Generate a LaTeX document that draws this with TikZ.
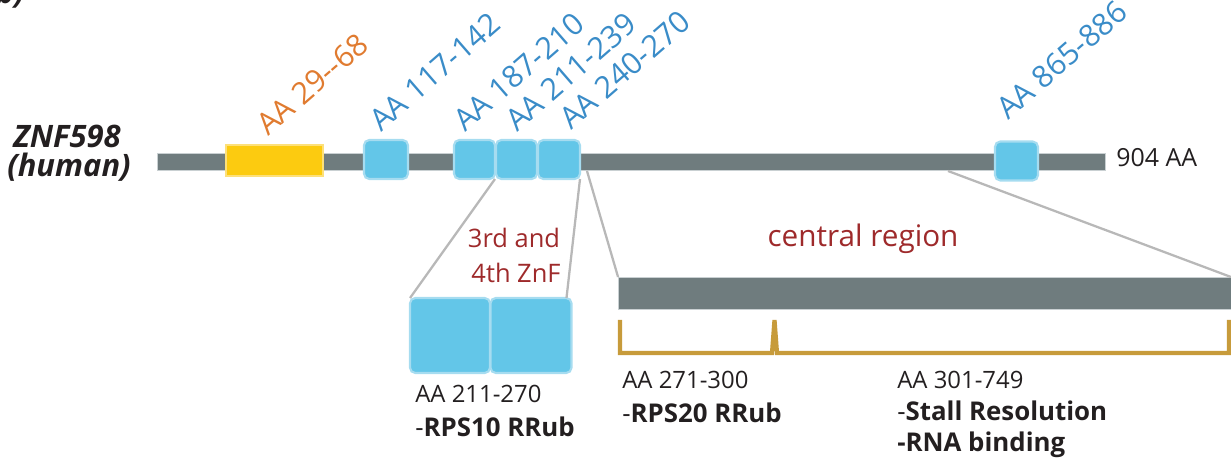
\documentclass[tikz,border=0pt]{standalone}
\usepackage{fontspec}
\setmainfont{Open Sans}
\definecolor{barGray}{HTML}{6F7C7E}
\definecolor{barEdge}{HTML}{C9D0D2}
\definecolor{zfBlue}{HTML}{63C6E8}
\definecolor{zfEdge}{HTML}{A6DCF0}
\definecolor{rYellow}{HTML}{FCCB10}
\definecolor{rYellowEdge}{HTML}{FDE07A}
\definecolor{txtOrange}{HTML}{E07B30}
\definecolor{txtBlue}{HTML}{3A8CC8}
\definecolor{txtRed}{HTML}{9E2A2B}
\definecolor{txtDark}{HTML}{231F20}
\definecolor{gold}{HTML}{C79B3B}
\definecolor{connGray}{HTML}{B8B8B8}
\newcommand{\fs}[1]{\fontsize{#1}{#1}\selectfont}
\begin{document}
\begin{tikzpicture}[x=0.02cm,y=-0.02cm,
  bar/.style={fill=barGray, draw=barEdge, line width=0.5pt, inner sep=0, outer sep=0},
  zf/.style={fill=zfBlue, draw=zfEdge, line width=1.2pt, rounded corners=3pt, inner sep=0, outer sep=0, minimum height=0.78cm},
  rgn/.style={fill=rYellow, draw=rYellowEdge, line width=1.2pt, inner sep=0, outer sep=0},
  conn/.style={draw=connGray, line width=1.3pt},
  rlab/.style={rotate=41, anchor=base west, inner sep=0, font=\fs{17.3}},
  lab/.style={anchor=base west, inner sep=0, text=txtDark},
  redlab/.style={anchor=base, inner sep=0, text=txtRed},
  bracket/.style={draw=gold, line width=2.4pt, line join=miter}
]
\useasboundingbox (0,0) rectangle (1231,462);
\clip (0,0) rectangle (1231,462);

% partial panel letter at top-left
\node[anchor=base west, inner sep=0, text=txtDark, font=\fs{17}\bfseries\itshape] (panel) at (-4,4) {b)};

% protein name
\node[anchor=base, inner sep=0, text=txtDark, font=\fs{17.6}\bfseries\itshape] (name1) at (67,148) {ZNF598};
\node[anchor=base, inner sep=0, text=txtDark, font=\fs{17.6}\bfseries\itshape] (name2) at (69,177) {(human)};

% main bar
\node[bar, minimum width=18.98cm, minimum height=0.34cm] (mb) at (631.5,161.5) {};
\node[lab, font=\fs{14.2}] (len) at (1116,167) {904 AA};

% domains on main bar
\node[rgn, minimum width=1.94cm, minimum height=0.62cm] (y1) at (274.5,160.5) {};
\node[zf, minimum width=0.88cm] (b1) at (386,159.5) {};
\node[zf, minimum width=0.82cm] (b2) at (474.5,159.5) {};
\node[zf, minimum width=0.82cm] (b3) at (516.5,159.5) {};
\node[zf, minimum width=0.84cm] (b4) at (559,159.5) {};
\node[zf, minimum width=0.86cm] (b5) at (1016.5,161) {};

% rotated labels
\node[rlab, text=txtOrange] (l1) at (268,137) {AA 29-{}-68};
\node[rlab, text=txtBlue] (l2) at (381,133) {AA 117-142};
\node[rlab, text=txtBlue] (l3) at (465,133) {AA 187-210};
\node[rlab, text=txtBlue] (l4) at (517,133) {AA 211-239};
\node[rlab, text=txtBlue] (l5) at (571,131) {AA 240-270};
\node[rlab, text=txtBlue] (l6) at (1008,121) {AA 865-886};

% connector anchor points on the main bar
\coordinate (c1) at (587,171);
\coordinate (c2) at (948,171);

% enlarged zinc fingers
\node[zf, minimum width=1.6cm, minimum height=1.5cm] (e1) at (450,335.5) {};
\node[zf, minimum width=1.62cm, minimum height=1.5cm] (e2) at (531,335.5) {};

% central region bar
\node[bar, minimum width=12.26cm, minimum height=0.64cm] (cb) at (924.5,293) {};

% connectors
\draw[conn] (b2.south east) -- (e1.north west);
\draw[conn] (b4.south east) -- ([xshift=-0.1cm]e2.north east);
\draw[conn] (c1) -- (cb.north west);
\draw[conn] (c2) -- (cb.north east);

% red labels
\node[redlab, font=\fs{14.5}] (znf1) at (514,248) {3rd and};
\node[redlab, font=\fs{14.5}] (znf2) at (516,283) {4th ZnF};
\node[redlab, font=\fs{16.9}] (central) at (863,247) {central region};

% brackets
\coordinate (k0) at (620,320);
\coordinate (k1) at (620,353);
\coordinate (k2) at (772,353);
\coordinate (k3) at (774.5,320);
\coordinate (k4) at (777,353);
\coordinate (k5) at (1229,353);
\coordinate (k6) at (1229,320);
\draw[bracket] (k0) -- (k1) -- (k2) -- (k3) -- (k4) -- (k5) -- (k6);

% annotation texts
\node[lab, font=\fs{13.6}] (a1) at (415,403) {AA 211-270};
\node[lab, font=\fs{14.7}] (a2) at (415,437) {-\textbf{RPS10 RRub}};
\node[lab, font=\fs{13.6}] (a3) at (622,389) {AA 271-300};
\node[lab, font=\fs{14.7}] (a4) at (622,423) {-\textbf{RPS20 RRub}};
\node[lab, font=\fs{13.6}] (a5) at (897,389) {AA 301-749};
\node[lab, font=\fs{14.7}] (a6) at (897,421) {-\textbf{Stall Resolution}};
\node[lab, font=\fs{14.7}] (a7) at (897,452) {\textbf{-RNA binding}};
\end{tikzpicture}
\end{document}
